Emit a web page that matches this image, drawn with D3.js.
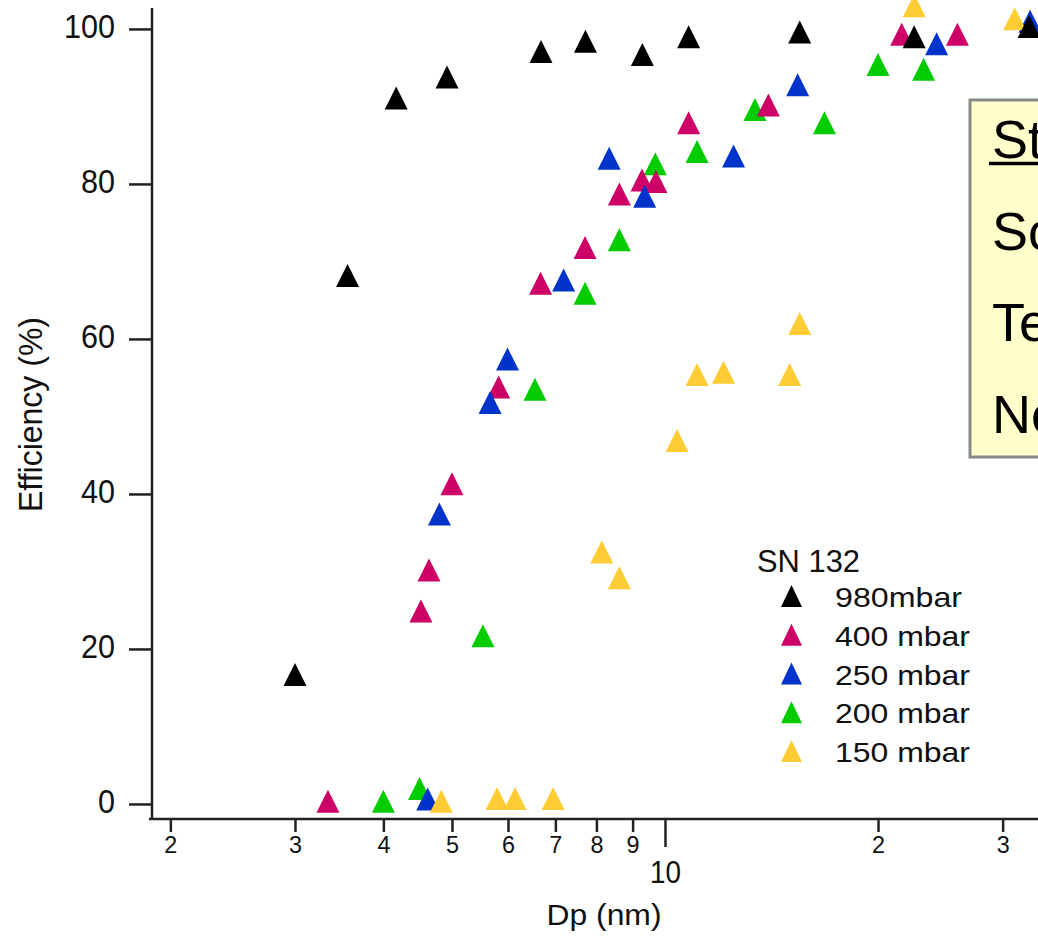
<!DOCTYPE html>
<html><head><meta charset="utf-8">
<script src="https://cdn.jsdelivr.net/npm/d3@7"></script>
<style>html,body{margin:0;padding:0;background:#fff;overflow:hidden}</style>
</head><body><svg id="c" width="1038" height="936"></svg>
<script>
// ---- data ----
const seriesNames = ["980mbar", "400 mbar", "250 mbar", "200 mbar", "150 mbar"];
const seriesColors = ["#000000", "#cc0066", "#0033cc", "#00cc00", "#ffcc33"];
const legendTitle = "SN 132";

const dp980 = [3.00, 3.56, 4.17, 4.92, 6.68, 7.72, 9.29, 10.8, 15.5, 22.5, 32.7];
const eff980 = [16.7, 68.2, 91.1, 93.8, 97.1, 98.4, 96.7, 99.0, 99.6, 99.0, 100.3];

const dp400 = [3.34, 4.52, 4.64, 5.00, 5.82, 6.67, 7.71, 8.62, 9.28, 9.71, 10.8, 14.0, 21.6, 25.9];
const eff400 = [0.35, 24.9, 30.2, 41.3, 53.8, 67.2, 71.8, 78.7, 80.5, 80.3, 87.9, 90.2, 99.3, 99.3];

const dp250 = [4.62, 4.80, 5.66, 5.99, 7.19, 8.34, 9.36, 12.5, 15.4, 24.2, 32.8];
const eff250 = [0.65, 37.4, 51.8, 57.4, 67.6, 83.3, 78.4, 83.6, 92.8, 98.1, 101.0];

const dp200 = [4.00, 4.50, 5.53, 6.55, 7.71, 8.62, 9.69, 11.1, 13.4, 16.8, 20.0, 23.2, 34.7];
const eff200 = [0.35, 2.0, 21.7, 53.5, 65.9, 72.8, 82.6, 84.2, 89.6, 87.9, 95.4, 94.8, 100.4];

const dp150 = [4.83, 5.79, 6.14, 6.95, 8.14, 8.62, 10.4, 11.1, 12.1, 15.0, 15.5, 22.5, 31.2];
const eff150 = [0.35, 0.7, 0.7, 0.7, 32.5, 29.2, 46.9, 55.4, 55.7, 55.4, 62.0, 103.0, 101.3];

const xMinorTicks = [2, 3, 4, 5, 6, 7, 8, 9, 20, 30];
const xMinorLabels = ["2", "3", "4", "5", "6", "7", "8", "9", "2", "3"];
const xMajorTicks = [10];
const xMajorLabels = ["10"];
const yTicks = [0, 20, 40, 60, 80, 100];
const xTitle = "Dp (nm)";
const yTitle = "Efficiency (%)";
const boxLines = ["St", "Sc", "Te", "Ne"];

// ---- chart ----
const FONT = "'Liberation Sans', Arial, sans-serif";
const TXT = "#111";
const svg = d3.select("#c");
const x = d3.scaleLog().domain([1.884, 35]).range([152, 1050]);
const y = d3.scaleLinear().domain([-1.94, 102.7]).range([819, 8]);

const seriesDp = [dp980, dp400, dp250, dp200, dp150];
const seriesEff = [eff980, eff400, eff250, eff200, eff150];
const drawOrder = [3, 1, 2, 4, 0];

function tri(w, h) { return `M0,${-h/2}L${w/2},${h/2}L${-w/2},${h/2}Z`; }

// y axis
const yAxis = svg.append("g").attr("transform", "translate(152,0)")
  .call(d3.axisLeft(y).tickValues(yTicks).tickSize(23).tickSizeOuter(0));
yAxis.select(".domain").remove();
yAxis.selectAll(".tick line").attr("stroke", "#222").attr("stroke-width", 2.5);
yAxis.selectAll(".tick text")
  .attr("x", -37).attr("dy", null).attr("y", 9)
  .attr("font-family", FONT).attr("font-size", 34).attr("fill", TXT)
  .attr("text-anchor", "end")
  .attr("textLength", d => String(d).length * 17).attr("lengthAdjust", "spacingAndGlyphs");
svg.append("line").attr("x1", 152).attr("x2", 152).attr("y1", y.range()[1]).attr("y2", y.range()[0] + 1)
  .attr("stroke", "#222").attr("stroke-width", 2.5);

// x axis
const xAxisMinor = svg.append("g").attr("transform", "translate(0,819)")
  .call(d3.axisBottom(x).tickValues(xMinorTicks).tickSize(13).tickSizeOuter(0)
    .tickFormat((d, i) => xMinorLabels[i]));
xAxisMinor.select(".domain").remove();
xAxisMinor.selectAll(".tick line").attr("stroke", "#222").attr("stroke-width", 2.5);
xAxisMinor.selectAll(".tick text")
  .attr("y", 34).attr("dy", null)
  .attr("font-family", FONT).attr("font-size", 24).attr("fill", TXT)
  .attr("textLength", 13).attr("lengthAdjust", "spacingAndGlyphs");

const xAxisMajor = svg.append("g").attr("transform", "translate(0,819)")
  .call(d3.axisBottom(x).tickValues(xMajorTicks).tickSize(28).tickSizeOuter(0)
    .tickFormat((d, i) => xMajorLabels[i]));
xAxisMajor.select(".domain").remove();
xAxisMajor.selectAll(".tick line").attr("stroke", "#222").attr("stroke-width", 2.5);
xAxisMajor.selectAll(".tick text")
  .attr("y", 64).attr("dy", null)
  .attr("font-family", FONT).attr("font-size", 31).attr("fill", TXT)
  .attr("textLength", 31).attr("lengthAdjust", "spacingAndGlyphs");

svg.append("line").attr("x1", 149).attr("x2", 1038).attr("y1", 819).attr("y2", 819)
  .attr("stroke", "#222").attr("stroke-width", 2.5);

// axis titles
svg.append("text").attr("x", 604).attr("y", 925).attr("text-anchor", "middle")
  .attr("font-family", FONT).attr("font-size", 30).attr("fill", TXT)
  .attr("textLength", 115).attr("lengthAdjust", "spacingAndGlyphs").text(xTitle);
svg.append("text").attr("transform", "translate(42,414.5) rotate(-90)").attr("text-anchor", "middle")
  .attr("font-family", FONT).attr("font-size", 33).attr("fill", TXT)
  .attr("textLength", 195).attr("lengthAdjust", "spacingAndGlyphs").text(yTitle);

// points
drawOrder.forEach(si => {
  svg.append("g").selectAll("path")
    .data(seriesDp[si].map((d, i) => [d, seriesEff[si][i]]))
    .join("path")
    .attr("d", tri(23, 23))
    .attr("transform", d => `translate(${x(d[0])},${y(d[1])})`)
    .attr("fill", seriesColors[si]);
});

// legend
const lg = svg.append("g");
lg.append("text").attr("x", 757).attr("y", 572)
  .attr("font-family", FONT).attr("font-size", 32).attr("fill", TXT)
  .attr("textLength", 103).attr("lengthAdjust", "spacingAndGlyphs").text(legendTitle);
const rowY = d3.scaleLinear().domain([0, 4]).range([607, 762]);
seriesNames.forEach((name, i) => {
  lg.append("path").attr("d", tri(21, 22))
    .attr("transform", `translate(791.5,${rowY(i) - 11})`).attr("fill", seriesColors[i]);
  lg.append("text").attr("x", 835).attr("y", rowY(i))
    .attr("font-family", FONT).attr("font-size", 28).attr("fill", TXT)
    .attr("textLength", name.includes(" ") ? 135 : 127).attr("lengthAdjust", "spacingAndGlyphs")
    .text(name);
});

// annotation box (cropped at right edge)
svg.append("rect").attr("x", 970).attr("y", 100).attr("width", 100).attr("height", 357)
  .attr("fill", "#ffffcc").attr("stroke", "#888").attr("stroke-width", 3);
const boxY = d3.scaleLinear().domain([0, 3]).range([158, 433]);
boxLines.forEach((t, i) => {
  svg.append("text").attr("x", 992).attr("y", boxY(i))
    .attr("font-family", FONT).attr("font-size", 54).attr("fill", "#000").text(t);
});
svg.append("line").attr("x1", 989).attr("x2", 1038).attr("y1", 163.5).attr("y2", 163.5)
  .attr("stroke", "#000").attr("stroke-width", 3.5);
</script></body></html>
